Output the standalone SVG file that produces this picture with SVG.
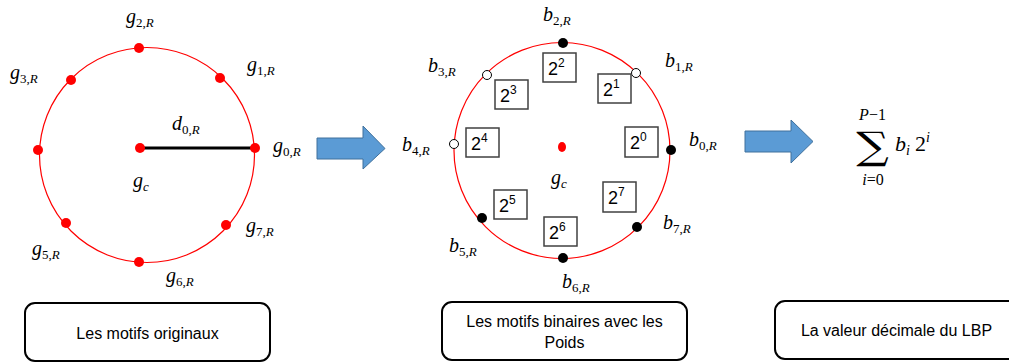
<svg xmlns="http://www.w3.org/2000/svg" width="1009" height="364" viewBox="0 0 1009 364">
<style>
.m{font-family:"Liberation Serif","DejaVu Serif",serif;font-style:italic;font-size:20px;fill:#000}
.s{font-size:13px}
.u{font-style:normal}
.ring{fill:none;stroke:#ff0000;stroke-width:1.2}
.rd{fill:#ff0000}
.bd{fill:#000}
.wd{fill:#fff;stroke:#000;stroke-width:1}
.wb{fill:#fff;stroke:#404040;stroke-width:1.5}
.wt{font-family:"Liberation Sans",Arial,sans-serif;font-size:18px;fill:#000}
.ws{font-size:12px}
.lb{fill:#fff;stroke:#000;stroke-width:2}
.lt{font-family:"Liberation Sans",Arial,sans-serif;font-size:16px;fill:#000;text-anchor:middle}
.arr{fill:#5b9bd5;stroke:#41719c;stroke-width:1}
</style>
<rect width="1009" height="364" fill="#fff"/>

<g id="motifs-originaux">
<circle class="ring" cx="147" cy="155" r="107.5"/>
<line x1="140" y1="148" x2="255" y2="148" stroke="#000" stroke-width="3"/>
<circle class="rd" cx="140" cy="148" r="5"/>
<circle class="rd" cx="255" cy="148" r="5"/>
<circle class="rd" cx="220" cy="78" r="5"/>
<circle class="rd" cx="139" cy="48" r="5"/>
<circle class="rd" cx="71" cy="80" r="5"/>
<circle class="rd" cx="38" cy="150" r="5"/>
<circle class="rd" cx="66" cy="223" r="5"/>
<circle class="rd" cx="139" cy="262" r="5"/>
<circle class="rd" cx="226" cy="225" r="5"/>
<text class="m" x="126" y="23">g<tspan class="s u" dy="4">2,</tspan><tspan class="s">R</tspan></text>
<text class="m" x="247" y="71">g<tspan class="s u" dy="4">1,</tspan><tspan class="s">R</tspan></text>
<text class="m" x="10" y="79">g<tspan class="s u" dy="4">3,</tspan><tspan class="s">R</tspan></text>
<text class="m" x="172" y="130">d<tspan class="s u" dy="4">0,</tspan><tspan class="s">R</tspan></text>
<text class="m" x="273" y="152">g<tspan class="s u" dy="4">0,</tspan><tspan class="s">R</tspan></text>
<text class="m" x="133" y="187">g<tspan class="s" dy="4">c</tspan></text>
<text class="m" x="246" y="232">g<tspan class="s u" dy="4">7,</tspan><tspan class="s">R</tspan></text>
<text class="m" x="32" y="255">g<tspan class="s u" dy="4">5,</tspan><tspan class="s">R</tspan></text>
<text class="m" x="166" y="282">g<tspan class="s u" dy="4">6,</tspan><tspan class="s">R</tspan></text>
</g>

<g id="motifs-binaires">
<circle class="ring" cx="562" cy="150.5" r="108"/>
<ellipse class="rd" cx="562" cy="147" rx="4" ry="5"/>
<circle class="bd" cx="563" cy="43" r="5"/>
<circle class="wd" cx="636" cy="73" r="4.5"/>
<circle class="wd" cx="487" cy="75" r="4.5"/>
<circle class="wd" cx="454" cy="144" r="4.5"/>
<circle class="bd" cx="671" cy="150" r="5"/>
<circle class="bd" cx="637" cy="227" r="5"/>
<circle class="bd" cx="482" cy="218" r="5"/>
<circle class="bd" cx="563" cy="258" r="5"/>
<rect class="wb" x="625" y="127" width="33" height="30"/>
<text class="wt" x="630" y="149">2<tspan class="ws" dy="-8">0</tspan></text>
<rect class="wb" x="598" y="74" width="33" height="29"/>
<text class="wt" x="603" y="96">2<tspan class="ws" dy="-8">1</tspan></text>
<rect class="wb" x="543" y="53" width="33" height="29"/>
<text class="wt" x="548" y="75">2<tspan class="ws" dy="-8">2</tspan></text>
<rect class="wb" x="495" y="80" width="33" height="29"/>
<text class="wt" x="500" y="102">2<tspan class="ws" dy="-8">3</tspan></text>
<rect class="wb" x="466" y="128" width="33" height="29"/>
<text class="wt" x="471" y="150">2<tspan class="ws" dy="-8">4</tspan></text>
<rect class="wb" x="494" y="190" width="33" height="29"/>
<text class="wt" x="499" y="212">2<tspan class="ws" dy="-8">5</tspan></text>
<rect class="wb" x="544" y="217" width="33" height="29"/>
<text class="wt" x="549" y="239">2<tspan class="ws" dy="-8">6</tspan></text>
<rect class="wb" x="603" y="182" width="33" height="30"/>
<text class="wt" x="608" y="204">2<tspan class="ws" dy="-8">7</tspan></text>
<text class="m" x="543" y="21">b<tspan class="s u" dy="4">2,</tspan><tspan class="s">R</tspan></text>
<text class="m" x="665" y="67">b<tspan class="s u" dy="4">1,</tspan><tspan class="s">R</tspan></text>
<text class="m" x="428" y="72">b<tspan class="s u" dy="4">3,</tspan><tspan class="s">R</tspan></text>
<text class="m" x="402" y="151">b<tspan class="s u" dy="4">4,</tspan><tspan class="s">R</tspan></text>
<text class="m" x="689" y="146">b<tspan class="s u" dy="4">0,</tspan><tspan class="s">R</tspan></text>
<text class="m" x="551" y="184">g<tspan class="s" dy="4">c</tspan></text>
<text class="m" x="663" y="229">b<tspan class="s u" dy="4">7,</tspan><tspan class="s">R</tspan></text>
<text class="m" x="449" y="252">b<tspan class="s u" dy="4">5,</tspan><tspan class="s">R</tspan></text>
<text class="m" x="562" y="288">b<tspan class="s u" dy="4">6,</tspan><tspan class="s">R</tspan></text>
</g>

<g id="formule">
<text class="m" x="872.5" y="120" style="font-size:16px" text-anchor="middle">P<tspan class="u">−1</tspan></text>
<text x="872.5" y="159" font-family="'DejaVu Serif',serif" font-size="38" text-anchor="middle" transform="translate(872.5,0) scale(1.2,1) translate(-872.5,0)">∑</text>
<text class="m" x="873" y="185" style="font-size:16px" text-anchor="middle">i<tspan class="u">=0</tspan></text>
<text class="m" x="895" y="151" style="font-size:22px">b<tspan class="s" style="font-size:14px" dy="4">i</tspan><tspan class="u" dx="5" dy="-4">2</tspan><tspan class="s" style="font-size:14px" dy="-9">i</tspan></text>
</g>

<g id="legende-1">
<rect class="lb" x="25" y="303" width="245" height="58" rx="10"/>
<text class="lt" x="147.5" y="339">Les motifs originaux</text>
</g>
<g id="legende-2">
<rect class="lb" x="442" y="302" width="245" height="58" rx="10"/>
<text class="lt" x="564.5" y="327">Les motifs binaires avec les</text>
<text class="lt" x="564.5" y="348">Poids</text>
</g>
<g id="legende-3">
<rect class="lb" x="775" y="301" width="250" height="58" rx="10"/>
<text class="lt" x="896.5" y="336">La valeur décimale du LBP</text>
</g>

<g id="connectors">
<polygon class="arr" points="317,138 363,138 363,126 385,148.5 363,169 363,159 317,159"/>
<polygon class="arr" points="745,131 791,131 791,120 813,141.5 791,163 791,152 745,152"/>
</g>
</svg>
